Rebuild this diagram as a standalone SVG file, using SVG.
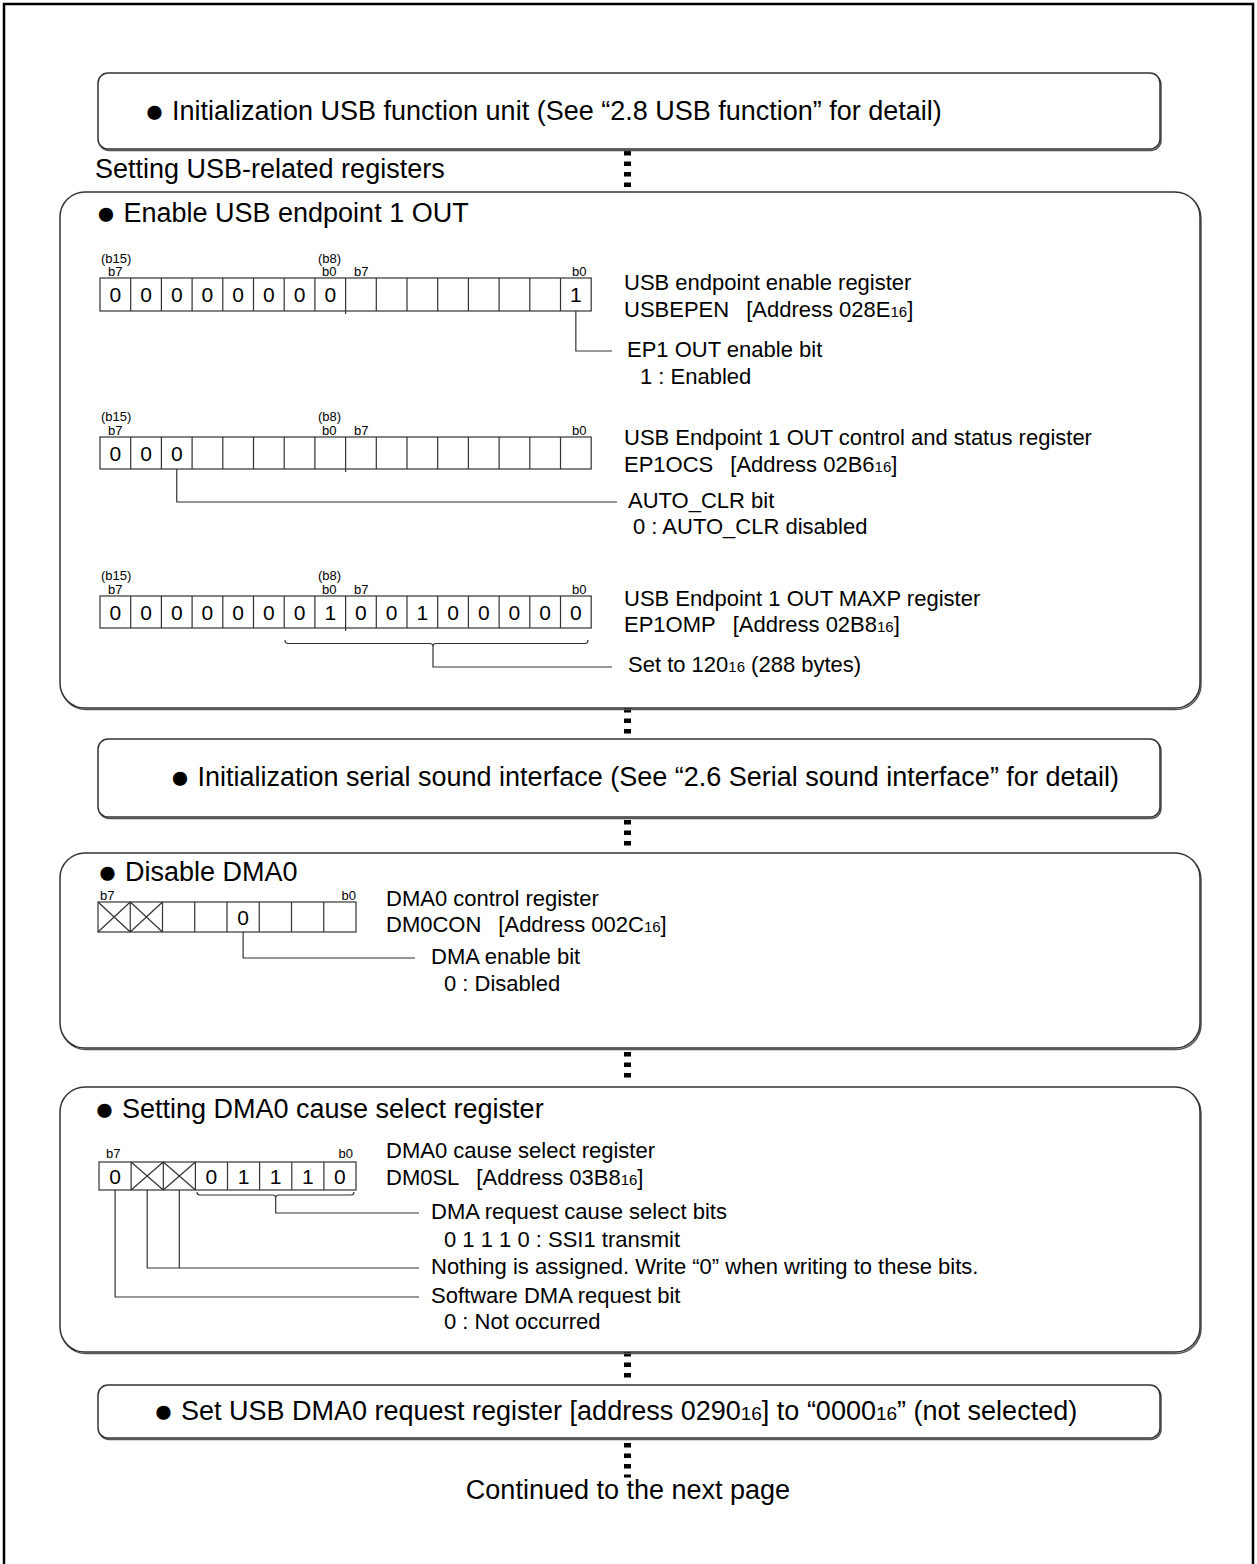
<svg xmlns="http://www.w3.org/2000/svg" width="1257" height="1564" viewBox="0 0 1257 1564">
<defs>
<style>
text{font-family:"Liberation Sans",Arial,sans-serif;fill:#000}
.tt{font-size:27px}
.b{font-size:22px}
.d{font-size:21px;text-anchor:middle}
.l{font-size:13px}
.s{font-size:15px}
.s2{font-size:19px}
.bul{font-size:33px}
.box{fill:#fff;stroke:#333;stroke-width:1.5}
.shd{fill:none;stroke:#555;stroke-width:1.5}
.reg{fill:#fff;stroke:#333;stroke-width:1.2}
.ln{fill:none;stroke:#333;stroke-width:1.2}
.dash{stroke:#000;stroke-width:7;stroke-dasharray:4.5 6;fill:none}
</style>
</defs>
<rect x="4" y="4" width="1249" height="1600" fill="none" stroke="#000" stroke-width="2.5"/>

<g id="connectors">
<line class="dash" x1="627.5" y1="151" x2="627.5" y2="190"/>
<line class="dash" x1="627.5" y1="708" x2="627.5" y2="737"/>
<line class="dash" x1="627.5" y1="820" x2="627.5" y2="850"/>
<line class="dash" x1="627.5" y1="1052" x2="627.5" y2="1082"/>
<line class="dash" x1="627.5" y1="1352" x2="627.5" y2="1380"/>
<line class="dash" x1="627.5" y1="1443" x2="627.5" y2="1477.5"/>
</g>

<g id="init-usb">
<rect class="shd" x="99" y="74.5" width="1062" height="76" rx="10"/>
<rect class="box" x="98" y="73" width="1062" height="76" rx="10"/>
<text class="tt" x="144.5" y="120"><tspan class="bul" dy="2">●</tspan><tspan dy="-2"> Initialization USB function unit (See “2.8 USB function” for detail)</tspan></text>
</g>

<g id="usb-label">
<text class="tt" x="95" y="178">Setting USB-related registers</text>
</g>

<g id="enable-ep1">
<rect class="shd" x="61" y="193.5" width="1140" height="516" rx="25"/>
<rect class="box" x="60" y="192" width="1140" height="516" rx="25"/>
<text class="tt" x="96" y="222"><tspan class="bul" dy="2">●</tspan><tspan dy="-2"> Enable USB endpoint 1 OUT</tspan></text>

<g id="usbepen">
<rect class="reg" x="100" y="278" width="491.2" height="33"/>
<path class="ln" d="M130.7 278v33M161.4 278v33M192.1 278v33M222.8 278v33M253.5 278v33M284.2 278v33M314.9 278v33M345.6 278v36M376.3 278v33M407 278v33M437.7 278v33M468.4 278v33M499.1 278v33M529.8 278v33M560.5 278v33"/>
<text class="l" x="101" y="263">(b15)</text>
<text class="l" x="108" y="276">b7</text>
<text class="l" x="318" y="263">(b8)</text>
<text class="l" x="322" y="276">b0</text>
<text class="l" x="354" y="276">b7</text>
<text class="l" x="572" y="276">b0</text>
<text class="d" y="302"><tspan x="115.35">0</tspan><tspan x="146.05">0</tspan><tspan x="176.75">0</tspan><tspan x="207.45">0</tspan><tspan x="238.15">0</tspan><tspan x="268.85">0</tspan><tspan x="299.55">0</tspan><tspan x="330.25">0</tspan><tspan x="575.85">1</tspan></text>
<text class="b" x="624" y="290">USB endpoint enable register</text>
<text class="b" x="624" y="317">USBEPEN<tspan dx="17">[Address 028E</tspan><tspan class="s">16</tspan>]</text>
<path class="ln" d="M575.85 311V351H612"/>
<text class="b" x="627" y="357">EP1 OUT enable bit</text>
<text class="b" x="640" y="384">1 : Enabled</text>
</g>

<g id="ep1ocs">
<rect class="reg" x="100" y="437" width="491.2" height="32"/>
<path class="ln" d="M130.7 437v32M161.4 437v32M192.1 437v32M222.8 437v32M253.5 437v32M284.2 437v32M314.9 437v32M345.6 437v35M376.3 437v32M407 437v32M437.7 437v32M468.4 437v32M499.1 437v32M529.8 437v32M560.5 437v32"/>
<text class="l" x="101" y="421">(b15)</text>
<text class="l" x="108" y="435">b7</text>
<text class="l" x="318" y="421">(b8)</text>
<text class="l" x="322" y="435">b0</text>
<text class="l" x="354" y="435">b7</text>
<text class="l" x="572" y="435">b0</text>
<text class="d" y="461"><tspan x="115.35">0</tspan><tspan x="146.05">0</tspan><tspan x="176.75">0</tspan></text>
<text class="b" x="624" y="445">USB Endpoint 1 OUT control and status register</text>
<text class="b" x="624" y="472">EP1OCS<tspan dx="17">[Address 02B6</tspan><tspan class="s">16</tspan>]</text>
<path class="ln" d="M176.75 469V502H617"/>
<text class="b" x="628" y="508">AUTO_CLR bit</text>
<text class="b" x="633" y="534">0 : AUTO_CLR disabled</text>
</g>

<g id="ep1omp">
<rect class="reg" x="100" y="596" width="491.2" height="32"/>
<path class="ln" d="M130.7 596v32M161.4 596v32M192.1 596v32M222.8 596v32M253.5 596v32M284.2 596v32M314.9 596v32M345.6 596v35M376.3 596v32M407 596v32M437.7 596v32M468.4 596v32M499.1 596v32M529.8 596v32M560.5 596v32"/>
<text class="l" x="101" y="580">(b15)</text>
<text class="l" x="108" y="594">b7</text>
<text class="l" x="318" y="580">(b8)</text>
<text class="l" x="322" y="594">b0</text>
<text class="l" x="354" y="594">b7</text>
<text class="l" x="572" y="594">b0</text>
<text class="d" y="620"><tspan x="115.35">0</tspan><tspan x="146.05">0</tspan><tspan x="176.75">0</tspan><tspan x="207.45">0</tspan><tspan x="238.15">0</tspan><tspan x="268.85">0</tspan><tspan x="299.55">0</tspan><tspan x="330.25">1</tspan><tspan x="360.95">0</tspan><tspan x="391.65">0</tspan><tspan x="422.35">1</tspan><tspan x="453.05">0</tspan><tspan x="483.75">0</tspan><tspan x="514.45">0</tspan><tspan x="545.15">0</tspan><tspan x="575.85">0</tspan></text>
<text class="b" x="624" y="606">USB Endpoint 1 OUT MAXP register</text>
<text class="b" x="624" y="632">EP1OMP<tspan dx="17">[Address 02B8</tspan><tspan class="s">16</tspan>]</text>
<path class="ln" d="M285 640q0 3.5 3 3.5H430q3 0 3 3.5q0-3.5 3-3.5H585q3 0 3-3.5M433 647V667H612"/>
<text class="b" x="628" y="672">Set to 120<tspan class="s">16</tspan> (288 bytes)</text>
</g>
</g>

<g id="init-ssi">
<rect class="shd" x="99" y="740.5" width="1062" height="78" rx="10"/>
<rect class="box" x="98" y="739" width="1062" height="78" rx="10"/>
<text class="tt" x="170" y="786"><tspan class="bul" dy="2">●</tspan><tspan dy="-2"> Initialization serial sound interface (See “2.6 Serial sound interface” for detail)</tspan></text>
</g>

<g id="disable-dma0">
<rect class="shd" x="61" y="854.5" width="1140" height="195" rx="25"/>
<rect class="box" x="60" y="853" width="1140" height="195" rx="25"/>
<text class="tt" x="97.5" y="881"><tspan class="bul" dy="2">●</tspan><tspan dy="-2"> Disable DMA0</tspan></text>
<rect class="reg" x="98" y="902" width="258" height="30"/>
<path class="ln" d="M130.25 902v30M162.5 902v30M194.75 902v30M227 902v30M259.25 902v30M291.5 902v30M323.75 902v30M98 902L130.25 932M130.25 902L98 932M130.25 902L162.5 932M162.5 902L130.25 932"/>
<text class="l" x="100" y="900">b7</text>
<text class="l" x="356" y="900" text-anchor="end">b0</text>
<text class="d" x="243.1" y="925">0</text>
<text class="b" x="386" y="906">DMA0 control register</text>
<text class="b" x="386" y="932">DM0CON<tspan dx="17">[Address 002C</tspan><tspan class="s">16</tspan>]</text>
<path class="ln" d="M243.1 932V958H415"/>
<text class="b" x="431" y="964">DMA enable bit</text>
<text class="b" x="444" y="991">0 : Disabled</text>
</g>

<g id="dma0-cause">
<rect class="shd" x="61" y="1088.5" width="1140" height="265" rx="25"/>
<rect class="box" x="60" y="1087" width="1140" height="265" rx="25"/>
<text class="tt" x="94.5" y="1118"><tspan class="bul" dy="2">●</tspan><tspan dy="-2"> Setting DMA0 cause select register</tspan></text>
<rect class="reg" x="99" y="1162" width="257" height="28"/>
<path class="ln" d="M131.1 1162v28M163.3 1162v28M195.4 1162v28M227.5 1162v28M259.6 1162v28M291.8 1162v28M323.9 1162v28M131.1 1162L163.3 1190M163.3 1162L131.1 1190M163.3 1162L195.4 1190M195.4 1162L163.3 1190"/>
<text class="l" x="106" y="1158">b7</text>
<text class="l" x="353" y="1158" text-anchor="end">b0</text>
<text class="d" y="1184"><tspan x="115.1">0</tspan><tspan x="211.4">0</tspan><tspan x="243.6">1</tspan><tspan x="275.7">1</tspan><tspan x="307.8">1</tspan><tspan x="339.9">0</tspan></text>
<path class="ln" d="M197 1192q0 3 3 3H272.7q3 0 3 3q0-3 3-3H351q3 0 3-3M275.7 1198V1213H419M179.3 1190V1268M147.2 1190V1268H419M115.1 1190V1297H419"/>
<text class="b" x="386" y="1158">DMA0 cause select register</text>
<text class="b" x="386" y="1185">DM0SL<tspan dx="17">[Address 03B8</tspan><tspan class="s">16</tspan>]</text>
<text class="b" x="431" y="1219">DMA request cause select bits</text>
<text class="b" x="444" y="1247">0 1 1 1 0 : SSI1 transmit</text>
<text class="b" x="431" y="1274">Nothing is assigned. Write “0” when writing to these bits.</text>
<text class="b" x="431" y="1303">Software DMA request bit</text>
<text class="b" x="444" y="1329">0 : Not occurred</text>
</g>

<g id="usb-dma0-req">
<rect class="shd" x="99" y="1386.5" width="1062" height="53" rx="10"/>
<rect class="box" x="98" y="1385" width="1062" height="53" rx="10"/>
<text class="tt" x="153.5" y="1420"><tspan class="bul" dy="2">●</tspan><tspan dy="-2"> Set USB DMA0 request register [address 0290<tspan class="s2">16</tspan>] to “0000<tspan class="s2">16</tspan>” (not selected)</tspan></text>
</g>

<g id="continued">
<text class="tt" x="628" y="1499" text-anchor="middle">Continued to the next page</text>
</g>
</svg>
